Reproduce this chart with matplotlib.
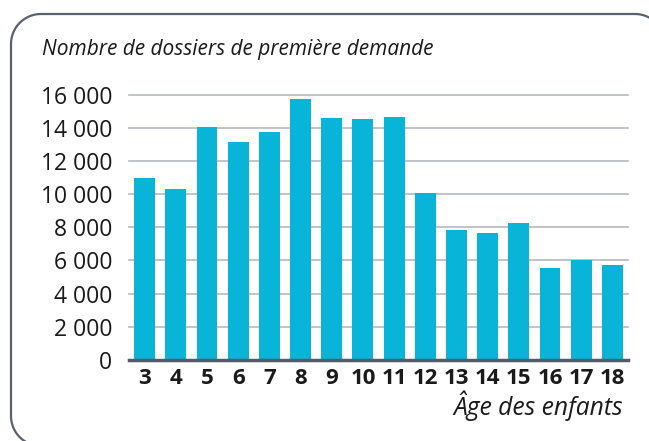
import matplotlib
matplotlib.use('Agg')
import numpy as np
import matplotlib.pyplot as plt

plt.rcParams['font.family'] = ['Open Sans', 'DejaVu Sans']

ages = ['3', '4', '5', '6', '7', '8', '9', '10', '11', '12', '13', '14', '15', '16', '17', '18']
dossiers = [10970, 10280, 14070, 13160, 13770, 15740, 14610, 14550, 14630,
            10060, 7830, 7650, 8250, 5540, 6000, 5740]
yticks = [0, 2000, 4000, 6000, 8000, 10000, 12000, 14000, 16000]
ylabels = ['{:,}'.format(v).replace(',', ' ') for v in yticks]

bar_color = '#08b5d9'
grid_color = '#b5b8c4'
axis_color = '#555b68'
text_color = '#1a1a1a'
frame_color = '#5a606e'

W, H = 649, 441
fig = plt.figure(figsize=(W / 100, H / 100), dpi=100)

# rounded frame running off the right and bottom edges; only the visible
# part is drawn (pixel units, y downwards)
bg = fig.add_axes([0, 0, 1, 1])
bg.set_xlim(0, W)
bg.set_ylim(H, 0)
bg.axis('off')
x0, y0, x1, y1, r = 11, 14, 665, 446, 30
a_max = np.arcsin(min(1, (H + 1 - (y1 - r)) / r))
b_max = np.arcsin(min(1, (W + 1 - (x1 - r)) / r))
a = np.linspace(a_max, 0, 15)
t = np.linspace(0, np.pi / 2, 25)
b = np.linspace(0, b_max, 15)
fx = np.concatenate([x0 + r - r * np.cos(a), x0 + r - r * np.cos(t),
                     x1 - r + r * np.sin(b)])
fy = np.concatenate([y1 - r + r * np.sin(a), y0 + r - r * np.sin(t),
                     y0 + r - r * np.cos(b)])
bg.plot(fx, fy, color=frame_color, linewidth=1.6, solid_capstyle='butt')

ax = fig.add_axes([0.1988, 0.1837, 0.7688, 0.6020])
x = range(len(ages))
ax.bar(x, dossiers, width=0.67, color=bar_color, zorder=3)

ax.set_xlim(-0.5, len(ages) - 0.5)
ax.set_ylim(0, 16000)
ax.set_yticks(yticks)
ax.set_yticklabels(ylabels, fontsize=16.5, color=text_color)
ax.set_xticks(list(x))
ax.set_xticklabels(ages, fontsize=16, fontweight='bold', color=text_color)
ax.tick_params(axis='y', length=0, pad=12)
ax.tick_params(axis='x', length=0, pad=6)

ax.yaxis.grid(True, color=grid_color, linewidth=1.2, zorder=0, clip_on=False)
for s in ['top', 'right', 'left']:
    ax.spines[s].set_visible(False)
ax.spines['bottom'].set_color(axis_color)
ax.spines['bottom'].set_linewidth(2.5)
ax.spines['bottom'].set_zorder(4)

fig.text(42 / W, 1 - 50 / H, 'Nombre de dossiers de première demande',
         fontsize=15, style='italic', color=text_color, va='center', ha='left')
fig.text(623 / W, 1 - 406 / H, 'Âge des enfants',
         fontsize=17.7, style='italic', color=text_color, va='center', ha='right')

plt.savefig('out.png', dpi=100)
